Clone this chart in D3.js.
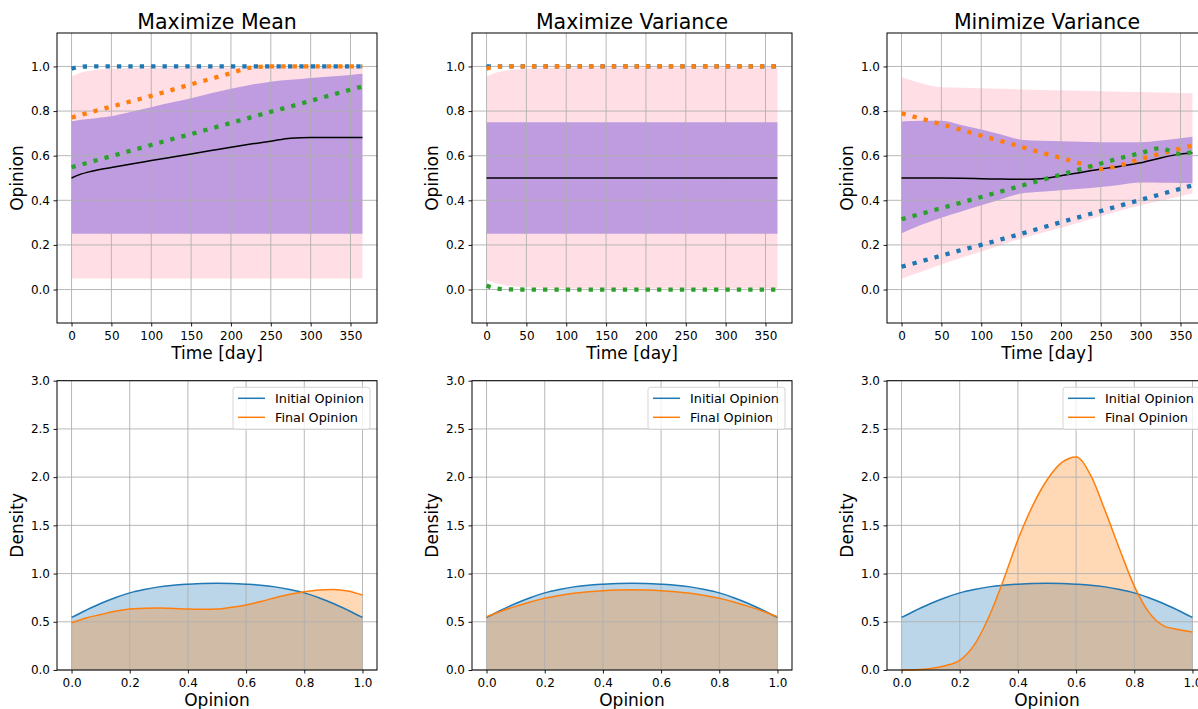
<!DOCTYPE html>
<html><head><meta charset="utf-8">
<script src="https://cdn.jsdelivr.net/npm/d3@7"></script>
<style>body{margin:0;background:#fff}svg{display:block}</style>
</head><body><svg id="c" width="1198" height="709"></svg>
<script>
// ---------- data ----------
const titles = ["Maximize Mean", "Maximize Variance", "Minimize Variance"];
const days = [0, 10, 25, 50, 75, 100, 125, 150, 175, 200, 225, 250, 275, 300, 325, 350, 365];

// Maximize Mean
const mmPinkHi   = [0.955,0.970,0.982,0.990,0.993,0.994,0.995,0.995,0.995,0.995,0.995,0.995,0.995,0.995,0.995,0.995,0.995];
const mmPinkLo   = [0.05,0.05,0.05,0.05,0.05,0.05,0.05,0.05,0.05,0.05,0.05,0.05,0.05,0.05,0.05,0.05,0.05];
const mmPurpleHi = [0.754,0.760,0.766,0.777,0.797,0.817,0.838,0.858,0.880,0.900,0.918,0.932,0.940,0.948,0.955,0.962,0.967];
const mmPurpleLo = [0.25,0.25,0.25,0.25,0.25,0.25,0.25,0.25,0.25,0.25,0.25,0.25,0.25,0.25,0.25,0.25,0.25];
const mmMean     = [0.500,0.515,0.530,0.547,0.563,0.578,0.593,0.608,0.623,0.638,0.652,0.665,0.678,0.681,0.681,0.681,0.681];
const mmBlue     = [0.990,0.998,1,1,1,1,1,1,1,1,1,1,1,1,1,1,1];
const mmOrange   = [0.771,0.781,0.796,0.820,0.844,0.868,0.894,0.920,0.945,0.970,0.995,1,1,1,1,1,1];
const mmGreen    = [0.548,0.558,0.573,0.598,0.623,0.648,0.673,0.697,0.722,0.747,0.772,0.797,0.821,0.846,0.871,0.896,0.910];

// Maximize Variance
const mvPinkHi   = [0.955,0.970,0.982,0.990,0.993,0.994,0.995,0.995,0.995,0.995,0.995,0.995,0.995,0.995,0.995,0.995,0.995];
const mvPinkLo   = [0.045,0.030,0.018,0.010,0.007,0.006,0.005,0.005,0.005,0.005,0.005,0.005,0.005,0.005,0.005,0.005,0.005];
const mvPurpleHi = [0.75,0.75,0.75,0.75,0.75,0.75,0.75,0.75,0.75,0.75,0.75,0.75,0.75,0.75,0.75,0.75,0.75];
const mvPurpleLo = [0.25,0.25,0.25,0.25,0.25,0.25,0.25,0.25,0.25,0.25,0.25,0.25,0.25,0.25,0.25,0.25,0.25];
const mvMean     = [0.5,0.5,0.5,0.5,0.5,0.5,0.5,0.5,0.5,0.5,0.5,0.5,0.5,0.5,0.5,0.5,0.5];
const mvBlue     = [1,1,1,1,1,1,1,1,1,1,1,1,1,1,1,1,1];
const mvOrange   = [0.990,0.998,1,1,1,1,1,1,1,1,1,1,1,1,1,1,1];
const mvGreen    = [0.018,0.006,0.001,0,0,0,0,0,0,0,0,0,0,0,0,0,0];

// Minimize Variance
const nvPinkHi   = [0.952,0.940,0.925,0.907,0.905,0.902,0.900,0.897,0.895,0.893,0.891,0.889,0.887,0.885,0.883,0.881,0.880];
const nvPinkLo   = [0.048,0.062,0.080,0.112,0.142,0.170,0.200,0.228,0.253,0.277,0.303,0.330,0.354,0.378,0.398,0.418,0.430];
const nvPurpleHi = [0.753,0.755,0.757,0.757,0.738,0.717,0.695,0.672,0.667,0.665,0.662,0.660,0.660,0.660,0.668,0.678,0.685];
const nvPurpleLo = [0.252,0.268,0.290,0.322,0.350,0.378,0.405,0.430,0.438,0.445,0.452,0.460,0.470,0.480,0.479,0.478,0.477];
const nvMean     = [0.500,0.500,0.500,0.500,0.499,0.497,0.495,0.494,0.497,0.510,0.525,0.540,0.553,0.568,0.590,0.607,0.612];
const nvBlue     = [0.102,0.112,0.127,0.152,0.177,0.200,0.225,0.250,0.276,0.302,0.327,0.352,0.377,0.402,0.427,0.452,0.467];
const nvOrange   = [0.790,0.780,0.766,0.741,0.716,0.690,0.665,0.640,0.614,0.590,0.565,0.540,0.558,0.585,0.609,0.632,0.645];
const nvGreen    = [0.315,0.325,0.340,0.365,0.390,0.415,0.440,0.465,0.490,0.515,0.540,0.565,0.590,0.612,0.633,0.607,0.618];

// Densities
const opinionGrid   = [0,0.05,0.1,0.15,0.2,0.25,0.3,0.35,0.4,0.45,0.5,0.55,0.6,0.65,0.7,0.75,0.8,0.85,0.9,0.95,1.0];
const initialDensity = [0.545,0.62,0.69,0.75,0.80,0.835,0.862,0.88,0.89,0.897,0.899,0.897,0.89,0.88,0.862,0.835,0.80,0.75,0.69,0.62,0.545];
const finalDensityMM = [0.49,0.54,0.575,0.61,0.632,0.64,0.642,0.638,0.632,0.63,0.632,0.65,0.675,0.71,0.75,0.785,0.812,0.83,0.836,0.82,0.778];
const finalDensityMV = [0.553,0.61,0.66,0.705,0.743,0.772,0.795,0.812,0.823,0.829,0.831,0.829,0.823,0.812,0.795,0.772,0.743,0.705,0.66,0.61,0.553];
const finalDensityNV = [0.0,0.003,0.015,0.045,0.1,0.26,0.55,0.93,1.35,1.7,1.97,2.15,2.21,2.02,1.65,1.25,0.87,0.6,0.46,0.42,0.395];

const timeTicks    = [0,50,100,150,200,250,300,350];
const opinionTicks = [0,0.2,0.4,0.6,0.8,1.0];
const densityTicks = [0,0.5,1.0,1.5,2.0,2.5,3.0];
const legendLabels = ["Initial Opinion", "Final Opinion"];

const topData = [
  {pinkHi:mmPinkHi,pinkLo:mmPinkLo,purpleHi:mmPurpleHi,purpleLo:mmPurpleLo,mean:mmMean,blue:mmBlue,orange:mmOrange,green:mmGreen},
  {pinkHi:mvPinkHi,pinkLo:mvPinkLo,purpleHi:mvPurpleHi,purpleLo:mvPurpleLo,mean:mvMean,blue:mvBlue,orange:mvOrange,green:mvGreen},
  {pinkHi:nvPinkHi,pinkLo:nvPinkLo,purpleHi:nvPurpleHi,purpleLo:nvPurpleLo,mean:nvMean,blue:nvBlue,orange:nvOrange,green:nvGreen}
];
const finals = [finalDensityMM, finalDensityMV, finalDensityNV];

// ---------- layout ----------
const FONT = "DejaVu Sans";
const C = {blue:"#1f77b4", orange:"#ff7f0e", green:"#2ca02c"};
const lefts = [57, 472, 887], PW = 320;
const topRow = {y0:33, y1:323}, botRow = {y0:380.7, y1:670};
const svg = d3.select("#c");
svg.append("rect").attr("width",1198).attr("height",709).attr("fill","#fff");

function styleAxis(g){
  g.select(".domain").remove();
  g.selectAll(".tick line").attr("stroke","#000").attr("stroke-width",0.9);
  g.selectAll(".tick text").attr("font-family",FONT).attr("font-size",12).attr("fill","#000");
}
function grid(g, x, y, xt, yt, y0, y1, xl, xr){
  const gg = g.append("g");
  gg.selectAll("line.gx").data(xt).join("line").attr("x1",d=>x(d)).attr("x2",d=>x(d))
    .attr("y1",y0).attr("y2",y1).attr("stroke","#b0b0b0").attr("stroke-width",0.9);
  gg.selectAll("line.gy").data(yt).join("line").attr("y1",d=>y(d)).attr("y2",d=>y(d))
    .attr("x1",xl).attr("x2",xr).attr("stroke","#b0b0b0").attr("stroke-width",0.9);
}
function frame(g, xl, xr, y0, y1){
  g.append("rect").attr("x",xl).attr("y",y0).attr("width",xr-xl).attr("height",y1-y0)
   .attr("fill","none").attr("stroke","#000").attr("stroke-width",1);
}

// ---------- top row ----------
topData.forEach((d,i)=>{
  const xl = lefts[i], xr = xl+PW, {y0,y1} = topRow;
  const x = d3.scaleLinear().domain([-18.25, 383.25]).range([xl, xr]);
  const y = d3.scaleLinear().domain([-0.15, 1.15]).range([y1, y0]);
  const g = svg.append("g");
  const rows = days.map((t,k)=>({t, ph:d.pinkHi[k], pl:d.pinkLo[k], uh:d.purpleHi[k], ul:d.purpleLo[k],
    m:d.mean[k], b:d.blue[k], o:d.orange[k], gr:d.green[k]}));
  const area = (hi,lo)=>d3.area().x(r=>x(r.t)).y0(r=>y(r[lo])).y1(r=>y(r[hi])).curve(d3.curveMonotoneX);
  g.append("path").attr("d",area("ph","pl")(rows)).attr("fill","#ffc0cb").attr("fill-opacity",0.5);
  g.append("path").attr("d",area("uh","ul")(rows)).attr("fill","#9370db").attr("fill-opacity",0.6);
  grid(g, x, y, timeTicks, opinionTicks, y0, y1, xl, xr);
  const line = key=>d3.line().x(r=>x(r.t)).y(r=>y(r[key])).curve(d3.curveMonotoneX)(rows);
  g.append("path").attr("d",line("m")).attr("fill","none").attr("stroke","#000").attr("stroke-width",1.5);
  [["b",C.blue],["o",C.orange],["gr",C.green]].forEach(([k,col])=>{
    g.append("path").attr("d",line(k)).attr("fill","none").attr("stroke",col)
     .attr("stroke-width",4.3).attr("stroke-dasharray","4.3,7.1");
  });
  frame(g, xl, xr, y0, y1);
  const ax = g.append("g").attr("transform",`translate(0,${y1})`)
    .call(d3.axisBottom(x).tickValues(timeTicks).tickSize(3.5).tickPadding(4.5).tickFormat(d3.format("d")));
  styleAxis(ax);
  const ay = g.append("g").attr("transform",`translate(${xl},0)`)
    .call(d3.axisLeft(y).tickValues(opinionTicks).tickSize(3.5).tickPadding(3.5).tickFormat(d3.format(".1f")));
  styleAxis(ay);
  g.append("text").attr("x",(xl+xr)/2).attr("y",29).attr("text-anchor","middle")
   .attr("font-family",FONT).attr("font-size",20.5).text(titles[i]);
  g.append("text").attr("x",(xl+xr)/2).attr("y",y1+35.5).attr("text-anchor","middle")
   .attr("font-family",FONT).attr("font-size",17).text("Time [day]");
  g.append("text").attr("transform",`translate(${xl-34},${(y0+y1)/2}) rotate(-90)`).attr("text-anchor","middle")
   .attr("font-family",FONT).attr("font-size",17).text("Opinion");
});

// ---------- bottom row ----------
finals.forEach((fin,i)=>{
  const xl = lefts[i], xr = xl+PW, {y0,y1} = botRow;
  const x = d3.scaleLinear().domain([-0.05, 1.05]).range([xl, xr]);
  const y = d3.scaleLinear().domain([0, 3]).range([y1, y0]);
  const g = svg.append("g");
  const rows = opinionGrid.map((v,k)=>({v, a:initialDensity[k], f:fin[k]}));
  const area = key=>d3.area().x(r=>x(r.v)).y0(y(0)).y1(r=>y(r[key])).curve(d3.curveMonotoneX)(rows);
  const line = key=>d3.line().x(r=>x(r.v)).y(r=>y(r[key])).curve(d3.curveMonotoneX)(rows);
  g.append("path").attr("d",area("a")).attr("fill",C.blue).attr("fill-opacity",0.3);
  g.append("path").attr("d",area("f")).attr("fill",C.orange).attr("fill-opacity",0.3);
  grid(g, x, y, opinionTicks, densityTicks, y0, y1, xl, xr);
  g.append("path").attr("d",line("a")).attr("fill","none").attr("stroke",C.blue).attr("stroke-width",1.5);
  g.append("path").attr("d",line("f")).attr("fill","none").attr("stroke",C.orange).attr("stroke-width",1.5);
  frame(g, xl, xr, y0, y1);
  const ax = g.append("g").attr("transform",`translate(0,${y1})`)
    .call(d3.axisBottom(x).tickValues(opinionTicks).tickSize(3.5).tickPadding(4.5).tickFormat(d3.format(".1f")));
  styleAxis(ax);
  const ay = g.append("g").attr("transform",`translate(${xl},0)`)
    .call(d3.axisLeft(y).tickValues(densityTicks).tickSize(3.5).tickPadding(3.5).tickFormat(d3.format(".1f")));
  styleAxis(ay);
  g.append("text").attr("x",(xl+xr)/2).attr("y",y1+35.5).attr("text-anchor","middle")
   .attr("font-family",FONT).attr("font-size",17).text("Opinion");
  g.append("text").attr("transform",`translate(${xl-34},${(y0+y1)/2}) rotate(-90)`).attr("text-anchor","middle")
   .attr("font-family",FONT).attr("font-size",17).text("Density");
  // legend
  const lx = xr-7-137, ly = y0+6.6;
  const lg = g.append("g");
  lg.append("rect").attr("x",lx).attr("y",ly).attr("width",137).attr("height",42).attr("rx",2.5)
    .attr("fill","#fff").attr("fill-opacity",0.8).attr("stroke","#d0d0d0").attr("stroke-width",0.9);
  [C.blue, C.orange].forEach((col,k)=>{
    const yy = ly+11+k*19;
    lg.append("line").attr("x1",lx+5).attr("x2",lx+32).attr("y1",yy).attr("y2",yy)
      .attr("stroke",col).attr("stroke-width",1.5);
    lg.append("text").attr("x",lx+42).attr("y",yy+4.6).attr("font-family",FONT).attr("font-size",12.8)
      .text(legendLabels[k]);
  });
});
</script></body></html>
